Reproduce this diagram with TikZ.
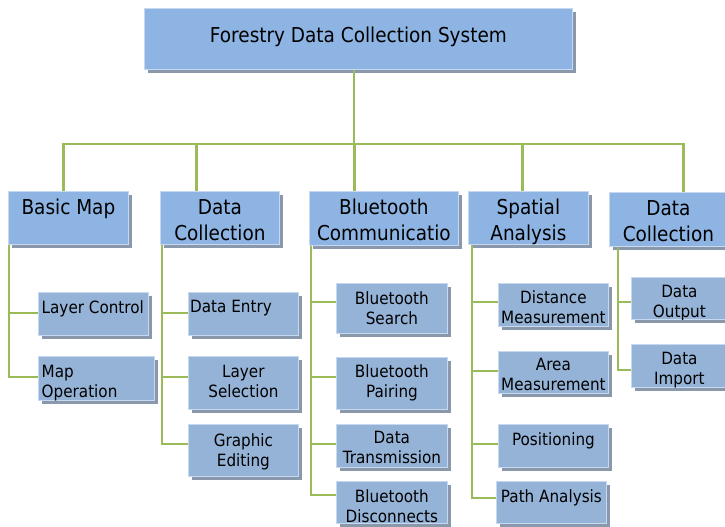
\documentclass[tikz,border=0pt]{standalone}
\usepackage{fontspec}
\setmainfont{DejaVu Sans}[FakeStretch=0.9]
\usetikzlibrary{shadows}
\definecolor{boxA}{HTML}{8DB4E2}
\definecolor{boxB}{HTML}{95B3D7}
\definecolor{edgeC}{HTML}{C6D9F1}
\definecolor{shad}{HTML}{8A98AB}
\definecolor{connG}{HTML}{9BBB59}
\tikzset{
  boxtop/.style={fill=boxA, draw=edgeC, line width=0.8pt, inner sep=0pt,
    drop shadow={shadow xshift=3.5pt, shadow yshift=-3.5pt, opacity=1, fill=shad}},
  boxsub/.style={boxtop, fill=boxB},
  conn/.style={draw=connG, line width=2.3pt},
  tone/.style={font=\fontsize{20.5}{26}\selectfont, align=center, anchor=north, inner sep=0pt},
  ttwo/.style={font=\fontsize{16.9}{20}\selectfont, align=center, anchor=north, inner sep=0pt},
  ttwol/.style={ttwo, align=left, anchor=north west},
}
\newcommand\mkbox[6]{\node[#6, anchor=north west, minimum width={(#4-#2)*1pt}, minimum height={(#5-#3)*1pt}] (#1) at (#2,#3) {};}
\begin{document}
\begin{tikzpicture}[x=1pt,y=-1pt]
\useasboundingbox[fill=white] (0,0) rectangle (725,527);

% root
\mkbox{root}{144}{8}{572}{69}{boxtop}
\node[tone, anchor=base] (root-t) at ([yshift=-3.2pt]root.center) {Forestry Data Collection System};

% level 1
\mkbox{bm}{8}{191}{128}{244}{boxtop}
\node[tone] (bm-t) at ([yshift=-8pt]bm.north) {Basic Map};
\mkbox{dc}{160}{191}{279}{244}{boxtop}
\node[tone] (dc-t) at ([yshift=-8pt]dc.north) {Data\\Collection};
\mkbox{bt}{309}{191}{458}{245}{boxtop}
\node[tone] (bt-t) at ([yshift=-8pt]bt.north) {Bluetooth\\Communicatio};
\mkbox{sa}{468}{191}{588}{244}{boxtop}
\node[tone] (sa-t) at ([yshift=-8pt]sa.north) {Spatial\\Analysis};
\mkbox{dd}{609}{192}{727}{246}{boxtop}
\node[tone] (dd-t) at ([yshift=-8pt]dd.north) {Data\\Collection};

% level 2: Basic Map
\mkbox{lc}{38}{292}{148}{335}{boxsub}
\node[ttwol] (lc-t) at ([xshift=3.5pt,yshift=-8pt]lc.north west) {Layer Control};
\mkbox{mo}{38}{356}{154}{400}{boxsub}
\begin{scope}
\clip (mo.north west) rectangle (mo.south east);
\node[ttwol] (mo-t) at ([xshift=3.5pt,yshift=-9pt]mo.north west) {Map\\Operation};
\end{scope}

% level 2: Data Collection
\mkbox{de}{188}{292}{298}{335}{boxsub}
\node[ttwol] (de-t) at ([xshift=2pt,yshift=-8pt]de.north west) {Data Entry};
\mkbox{ls}{188}{356}{298}{409}{boxsub}
\node[ttwo] (ls-t) at ([yshift=-9pt]ls.north) {Layer\\Selection};
\mkbox{ge}{188}{424}{298}{476}{boxsub}
\node[ttwo] (ge-t) at ([yshift=-9pt]ge.north) {Graphic\\Editing};

% level 2: Bluetooth
\mkbox{bs}{336}{283}{447}{333}{boxsub}
\node[ttwo] (bs-t) at ([yshift=-8pt]bs.north) {Bluetooth\\Search};
\mkbox{bp}{336}{357}{447}{409}{boxsub}
\node[ttwo] (bp-t) at ([yshift=-7pt]bp.north) {Bluetooth\\Pairing};
\mkbox{dt}{336}{424}{447}{467}{boxsub}
\node[ttwo] (dt-t) at ([yshift=-7pt]dt.north) {Data\\Transmission};
\mkbox{bd}{336}{481}{447}{523}{boxsub}
\node[ttwo] (bd-t) at ([yshift=-8pt]bd.north) {Bluetooth\\Disconnects};

% level 2: Spatial Analysis
\mkbox{dm}{498}{283}{608}{326}{boxsub}
\node[ttwo] (dm-t) at ([yshift=-7pt]dm.north) {Distance\\Measurement};
\mkbox{am}{498}{351}{608}{393}{boxsub}
\node[ttwo] (am-t) at ([yshift=-7pt]am.north) {Area\\Measurement};
\mkbox{po}{498}{424}{608}{467}{boxsub}
\node[ttwo] (po-t) at ([yshift=-8pt]po.north) {Positioning};
\mkbox{pa}{496}{481}{606}{523}{boxsub}
\node[ttwo] (pa-t) at ([yshift=-8pt]pa.north) {Path Analysis};

% level 2: Data Collection (2)
\mkbox{do}{631}{277}{727}{319}{boxsub}
\begin{scope}
\clip (do.north west) rectangle (do.south east);
\node[ttwo] (do-t) at ([yshift=-8pt]do.north) {Data\\Output};
\end{scope}
\mkbox{di}{631}{344}{727}{387}{boxsub}
\begin{scope}
\clip (di.north west) rectangle (di.south east);
\node[ttwo] (di-t) at ([yshift=-8pt]di.north) {Data\\Import};
\end{scope}

% connectors: root to level 1
\coordinate (bus) at (354,144);
\draw[conn] (root.south -| bus) -- (bus);
\draw[conn] ([xshift=-5pt]bm.north) |- ([xshift=15pt]dd.north |- bus) -- ([xshift=15pt]dd.north);
\draw[conn] ([xshift=-23.5pt]dc.north) -- ([xshift=-23.5pt]dc.north |- bus);
\draw[conn] ([xshift=-29.5pt]bt.north) -- ([xshift=-29.5pt]bt.north |- bus);
\draw[conn] ([xshift=-6pt]sa.north) -- ([xshift=-6pt]sa.north |- bus);

% connectors: level 1 to level 2
\draw[conn] ([xshift=1pt]bm.south west) |- ([yshift=-21pt]lc.north west);
\draw[conn] ([xshift=1pt]bm.south west) |- ([yshift=-21pt]mo.north west);

\draw[conn] ([xshift=2pt]dc.south west) |- ([yshift=-21pt]de.north west);
\draw[conn] ([xshift=2pt]dc.south west) |- ([yshift=-21pt]ls.north west);
\draw[conn] ([xshift=2pt]dc.south west) |- ([yshift=-20pt]ge.north west);

\draw[conn] ([xshift=2pt]bt.south west) |- ([yshift=-19pt]bs.north west);
\draw[conn] ([xshift=2pt]bt.south west) |- ([yshift=-20pt]bp.north west);
\draw[conn] ([xshift=2pt]bt.south west) |- ([yshift=-20pt]dt.north west);
\draw[conn] ([xshift=2pt]bt.south west) |- ([yshift=-14pt]bd.north west);

\draw[conn] ([xshift=4pt]sa.south west) |- ([yshift=-19pt]dm.north west);
\draw[conn] ([xshift=4pt]sa.south west) |- ([yshift=-20pt]am.north west);
\draw[conn] ([xshift=4pt]sa.south west) |- ([yshift=-20pt]po.north west);
\draw[conn] ([xshift=4pt]sa.south west) |- ([yshift=-17pt]pa.north west);

\draw[conn] ([xshift=9pt]dd.south west) |- ([yshift=-25pt]do.north west);
\draw[conn] ([xshift=9pt]dd.south west) |- ([yshift=-26pt]di.north west);
\end{tikzpicture}
\end{document}
